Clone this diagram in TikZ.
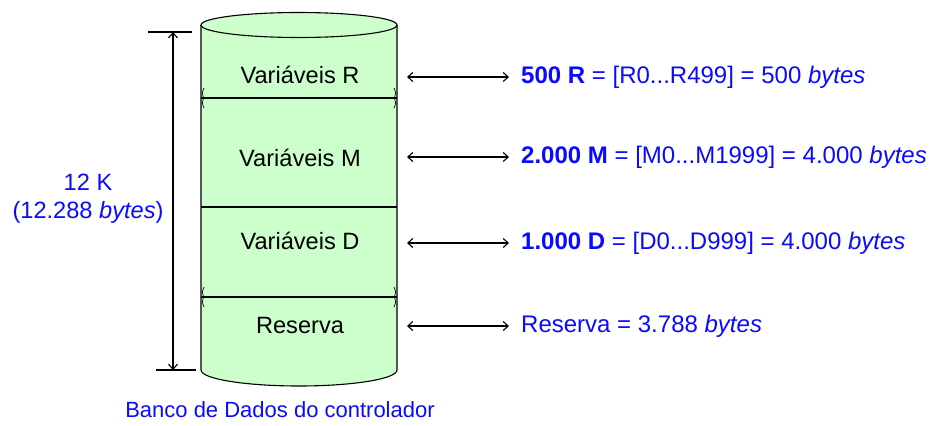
\documentclass[tikz,border=0pt]{standalone}
\usepackage{fontspec}
\setmainfont{Liberation Sans}
\usetikzlibrary{arrows.meta}
\definecolor{cylgreen}{RGB}{204,255,204}
\definecolor{txtblue}{RGB}{10,10,255}
\begin{document}
\begin{tikzpicture}[x=1pt,y=-1pt,
  lbl/.style={font=\fontsize{23.6}{28}\selectfont, inner sep=0pt},
  bluelbl/.style={lbl, text=txtblue},
  dimarrow/.style={line width=1.1pt, {Straight Barb[length=5pt,width=9pt]}-{Straight Barb[length=5pt,width=9pt]}},
  thin line/.style={line width=1.1pt}
]
\useasboundingbox (0,0) rectangle (930,426);
% cylinder body
\fill[cylgreen] (201,25) -- (201,370) arc[start angle=180,end angle=360,x radius=98pt,y radius=16pt] -- (397,25) -- cycle;
\draw[thin line] (201,25) -- (201,370) arc[start angle=180,end angle=360,x radius=98pt,y radius=16pt] -- (397,25);
\draw[thin line, fill=cylgreen] (299,25) ellipse[x radius=98pt, y radius=12.5pt];
% separators
\draw[thin line] (201,98) -- (397,98);
\draw[thin line] (201,207) -- (397,207);
\draw[thin line] (201,297) -- (397,297);
% small brace marks
\foreach \yy in {98,297}{
  \draw[line width=0.7pt] (204,\yy-10) .. controls (202,\yy-6) and (202,\yy-3) .. (203.5,\yy) .. controls (202,\yy+3) and (202,\yy+6) .. (204,\yy+10);
  \draw[line width=0.7pt] (394,\yy-10) .. controls (396,\yy-6) and (396,\yy-3) .. (394.5,\yy) .. controls (396,\yy+3) and (396,\yy+6) .. (394,\yy+10);
}
% labels inside
\node[lbl] (vr) at (300,75) {Variáveis R};
\node[lbl] (vm) at (300,158) {Variáveis M};
\node[lbl] (vd) at (300,241) {Variáveis D};
\node[lbl] (rs) at (300,325) {Reserva};
% dimension
\coordinate (dtop) at (173,32);
\coordinate (dbot) at (173,370);
\coordinate (t1a) at (148,32); \coordinate (t1b) at (192,32);
\coordinate (t2a) at (156,370); \coordinate (t2b) at (196,370);
\draw[thin line] (t1a) -- (t1b);
\draw[thin line] (t2a) -- (t2b);
\draw[dimarrow] (dtop) -- (dbot);
\node[bluelbl, align=center] (size) at (88,199) {12 K\\(12.288 \textit{bytes})};
% right arrows and texts
\foreach \nm/\yy in {a/77,b/157,c/243,d/326}{
  \coordinate (l\nm) at (407,\yy);
  \coordinate (r\nm) at (509,\yy);
  \draw[dimarrow] (l\nm) -- (r\nm);
}
\node[bluelbl, anchor=west, font=\fontsize{24}{28}\selectfont] (ta) at (521,77) {\textbf{500 R} = [R0...R499] = 500 \textit{bytes}};
\node[bluelbl, anchor=west, font=\fontsize{24}{28}\selectfont] (tb) at (521,157) {\textbf{2.000 M} = [M0...M1999] = 4.000 \textit{bytes}};
\node[bluelbl, anchor=west, font=\fontsize{24}{28}\selectfont] (tc) at (521,243) {\textbf{1.000 D} = [D0...D999] = 4.000 \textit{bytes}};
\node[bluelbl, anchor=west, font=\fontsize{24}{28}\selectfont] (td) at (521,326) {Reserva = 3.788 \textit{bytes}};
\node[bluelbl, font=\fontsize{22}{26}\selectfont] (cap) at (280,410) {Banco de Dados do controlador};
\end{tikzpicture}
\end{document}
